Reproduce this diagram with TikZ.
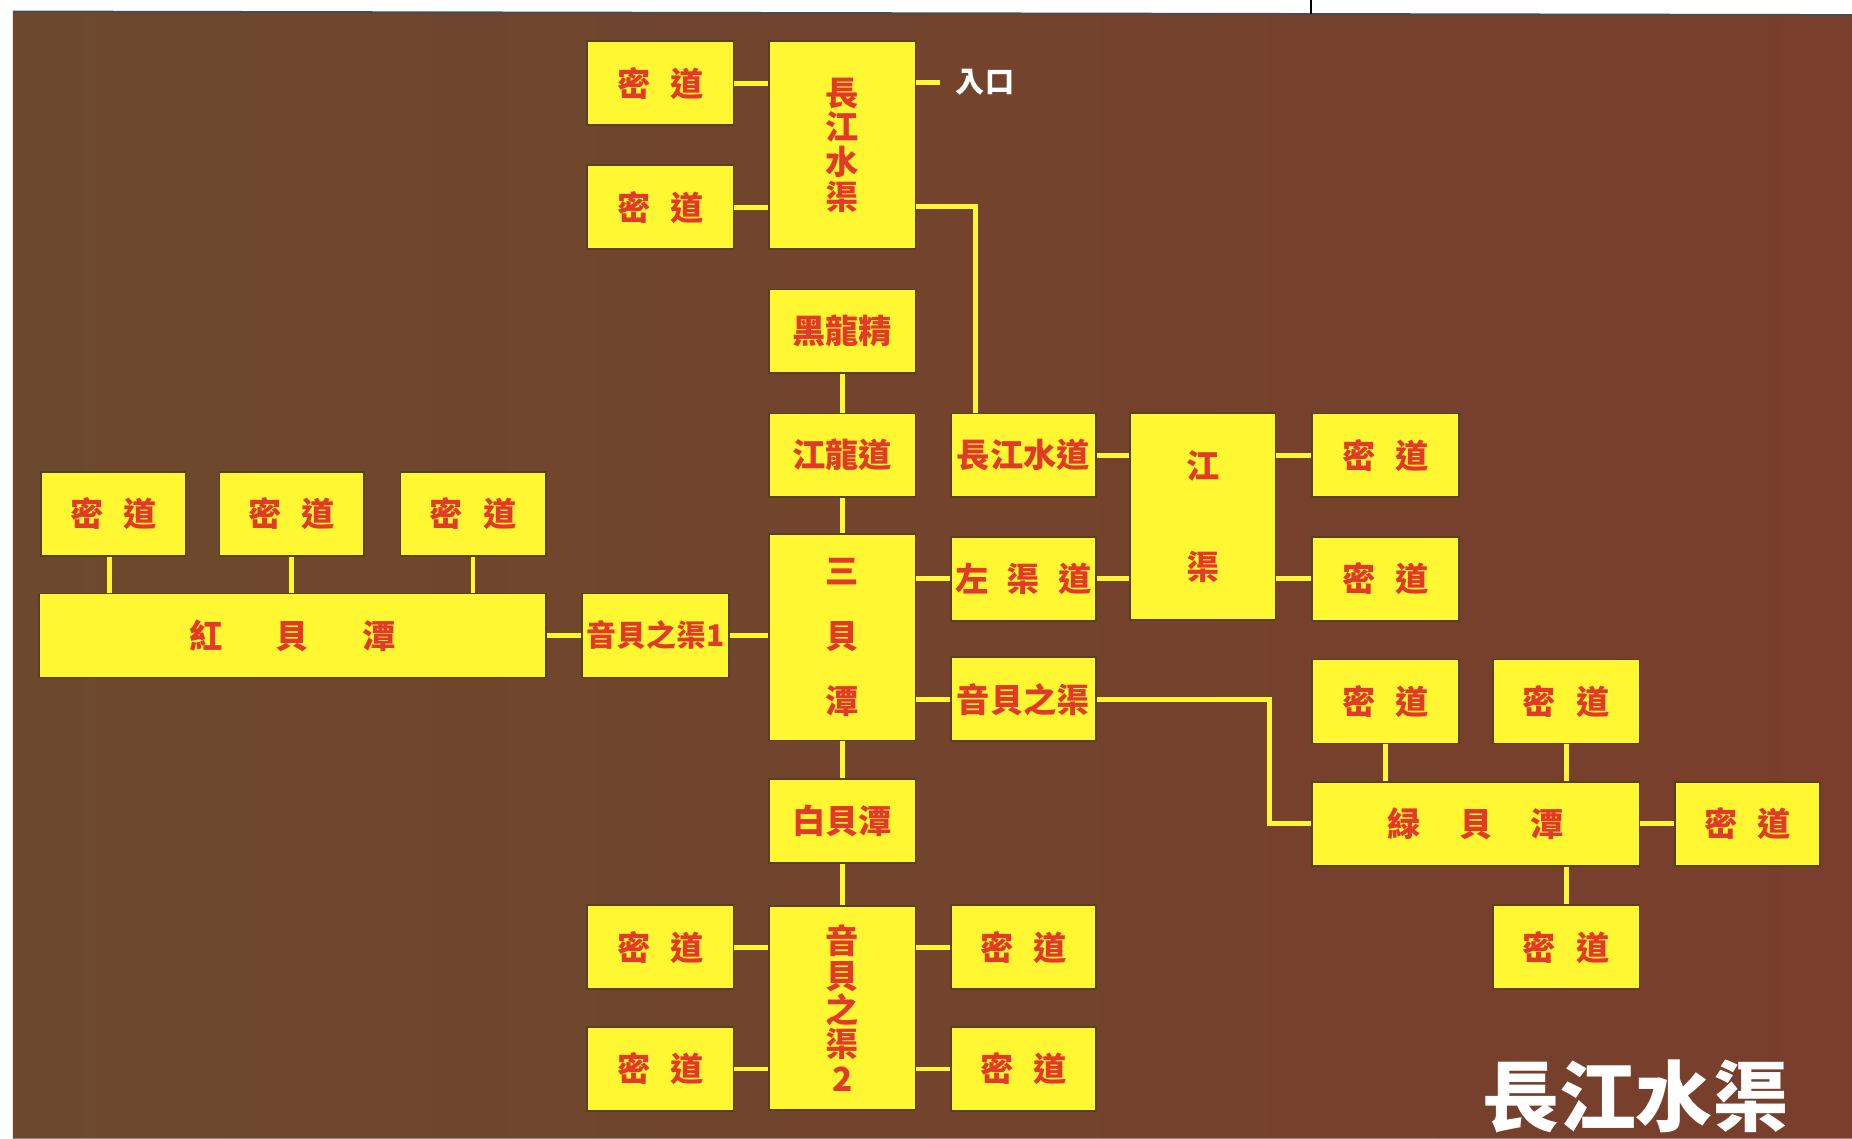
\documentclass[tikz,border=0pt]{standalone}
\usepackage{fontspec}
\setmainfont{Noto Sans CJK TC}
\definecolor{bx}{RGB}{255,247,50}
\definecolor{tx}{RGB}{226,58,40}
\definecolor{bgl}{RGB}{108,73,45}
\definecolor{bgr}{RGB}{121,62,44}
\definecolor{edge}{RGB}{88,64,26}
\tikzset{
  box/.style={fill=bx, draw=edge, line width=0.4pt, minimum width=1.24cm, minimum height=0.71cm,
    inner sep=0pt, text=tx, font=\bfseries\fontsize{8}{9}\selectfont, align=center},
  link/.style={draw=bx, line width=1.15pt},
}
\begin{document}
\begin{tikzpicture}[x=0.01cm,y=-0.01cm]
\useasboundingbox (0,0) rectangle (1568,964);
\fill[white] (0,0) rectangle (1568,964);
\shade[left color=bgl, right color=bgr] (11,10) -- (1568,13) -- (1568,964) -- (11,964) -- cycle;
\draw[black!70, line width=0.6pt] (11,10) -- (1568,13);
\draw[black, line width=0.5pt] (1110,0) -- (1110,11.5);

% top group
\node[box] (A) at (559,70.5) {密\hspace{0.6em}道};
\node[box] (B) at (559,175.5) {密\hspace{0.6em}道};
\node[box, minimum height=1.76cm, font=\bfseries\fontsize{8}{8.4}\selectfont] (C) at (713,123) {長\\江\\水\\渠};
\node[text=white, font=\bfseries\fontsize{7}{8}\selectfont, inner sep=0pt] (ent) at (834,70) {入口};

% middle column
\node[box] (D) at (713,280.5) {黑龍精};
\node[box] (E) at (713,385.5) {江龍道};
\node[box, minimum width=1.23cm] (F) at (866.5,385.5) {長江水道};
\node[box, minimum width=1.23cm, minimum height=1.75cm, font=\bfseries\fontsize{8}{24.2}\selectfont] (G) at (1018.5,437.5) {江\\渠};
\node[box] (H) at (1173,385.5) {密\hspace{0.6em}道};
\node[box] (I) at (1173,490) {密\hspace{0.6em}道};
\node[box, minimum height=1.75cm, font=\bfseries\fontsize{8}{15.6}\selectfont] (J) at (713,539.5) {三\\貝\\潭};
\node[box, minimum width=1.23cm] (K) at (866.5,490) {左\hspace{0.55em}渠\hspace{0.55em}道};
\node[box, minimum width=1.23cm] (L) at (866.5,592) {音貝之渠};
\node[box, font=\bfseries\fontsize{7.2}{8}\selectfont] (M) at (555,538) {音貝之渠1};

% left group
\node[box, minimum width=4.29cm] (N) at (247.5,538) {紅\hspace{1.6em}貝\hspace{1.6em}潭};
\node[box, minimum width=1.22cm] (O1) at (96,435) {密\hspace{0.6em}道};
\node[box, minimum width=1.22cm] (O2) at (247,435) {密\hspace{0.6em}道};
\node[box, minimum width=1.23cm] (O3) at (400.5,435) {密\hspace{0.6em}道};

% bottom group
\node[box] (P) at (713,695) {白貝潭};
\node[box, minimum height=1.73cm, font=\bfseries\fontsize{8}{8.3}\selectfont] (Q) at (713,853.5) {音\\貝\\之\\渠\\2};
\node[box] (R1) at (559,802) {密\hspace{0.6em}道};
\node[box] (R2) at (559,905) {密\hspace{0.6em}道};
\node[box, minimum width=1.23cm] (S1) at (866.5,802) {密\hspace{0.6em}道};
\node[box, minimum width=1.23cm] (S2) at (866.5,905) {密\hspace{0.6em}道};

% right group
\node[box, minimum width=2.77cm] (T) at (1249.5,697.5) {緑\hspace{1.15em}貝\hspace{1.15em}潭};
\node[box] (U1) at (1173,594) {密\hspace{0.6em}道};
\node[box] (U2) at (1326,594) {密\hspace{0.6em}道};
\node[box, minimum width=1.23cm] (V) at (1479.5,697.5) {密\hspace{0.6em}道};
\node[box] (W) at (1326,802) {密\hspace{0.6em}道};

\node[text=white, font=\bfseries\fontsize{18.5}{20}\selectfont, inner sep=0pt] (title) at (1385,928) {長江水渠};

% connectors
\draw[link] (A.east) -- (A.east -| C.west);
\draw[link] (B.east) -- (B.east -| C.west);
\draw[link] (C.east |- ent) -- ([xshift=-0.13cm]ent.west);
\coordinate (c1) at (826,175);
\draw[link] (C.east |- c1) -- (c1) -- (c1 |- F.north);
\draw[link] (D.south) -- (E.north);
\draw[link] (E.south) -- (J.north);
\draw[link] (F.east) -- (F.east -| G.west);
\draw[link] (K.east) -- (K.east -| G.west);
\draw[link] (H.west -| G.east) -- (H.west);
\draw[link] (I.west -| G.east) -- (I.west);
\draw[link] (K.west -| J.east) -- (K.west);
\draw[link] (L.west -| J.east) -- (L.west);
\draw[link] (M.east) -- (M.east -| J.west);
\draw[link] (N.east) -- (M.west);
\draw[link] ([xshift=-0.03cm]O1.south) -- ([xshift=-0.03cm]O1.south |- N.north);
\draw[link] (O2.south) -- (O2.south |- N.north);
\draw[link] (O3.south) -- (O3.south |- N.north);
\draw[link] (J.south) -- (P.north);
\draw[link] (P.south) -- (Q.north);
\draw[link] (R1.east) -- (R1.east -| Q.west);
\draw[link] (R2.east) -- (R2.east -| Q.west);
\draw[link] (S1.west -| Q.east) -- (S1.west);
\draw[link] (S2.west -| Q.east) -- (S2.west);
\coordinate (k1) at (1075,592);
\draw[link] (L.east) -- (k1) -- (k1 |- T.west) -- (T.west);
\draw[link] (U1.south) -- (U1.south |- T.north);
\draw[link] (U2.south) -- (U2.south |- T.north);
\draw[link] (T.east) -- (V.west);
\draw[link] (W.north |- T.south) -- (W.north);
\end{tikzpicture}
\end{document}
